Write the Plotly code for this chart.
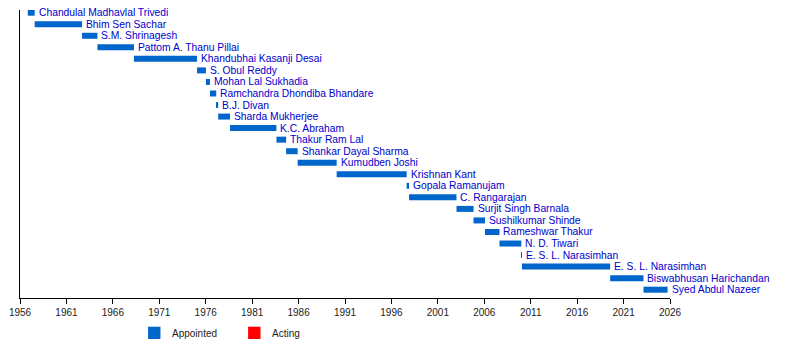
import pandas as pd
import plotly.graph_objects as go

# Governors of Andhra Pradesh, in order of term
names = [
    "Chandulal Madhavlal Trivedi", "Bhim Sen Sachar", "S.M. Shrinagesh",
    "Pattom A. Thanu Pillai", "Khandubhai Kasanji Desai", "S. Obul Reddy",
    "Mohan Lal Sukhadia", "Ramchandra Dhondiba Bhandare", "B.J. Divan",
    "Sharda Mukherjee", "K.C. Abraham", "Thakur Ram Lal",
    "Shankar Dayal Sharma", "Kumudben Joshi", "Krishnan Kant",
    "Gopala Ramanujam", "C. Rangarajan", "Surjit Singh Barnala",
    "Sushilkumar Shinde", "Rameshwar Thakur", "N. D. Tiwari",
    "E. S. L. Narasimhan", "E. S. L. Narasimhan",
    "Biswabhusan Harichandan", "Syed Abdul Nazeer",
]
starts = [
    "1956-11-01", "1957-08-01", "1962-09-08", "1964-05-04", "1968-04-11",
    "1975-01-25", "1976-01-10", "1976-06-16", "1977-02-17", "1977-05-05",
    "1978-08-15", "1983-08-15", "1984-08-29", "1985-11-26", "1990-02-07",
    "1997-08-22", "1997-11-24", "2003-01-03", "2004-11-04", "2006-01-29",
    "2007-08-22", "2009-12-28", "2010-01-23", "2019-07-24", "2023-02-24",
]
ends = [
    "1957-08-01", "1962-09-08", "1964-05-04", "1968-04-11", "1975-01-25",
    "1976-01-10", "1976-06-16", "1977-02-17", "1977-05-05", "1978-08-15",
    "1983-08-15", "1984-08-29", "1985-11-26", "1990-02-07", "1997-08-22",
    "1997-11-24", "2003-01-03", "2004-11-04", "2006-01-29", "2007-08-22",
    "2009-12-27", "2010-01-22", "2019-07-23", "2023-02-23", "2025-09-28",
]
kinds = ["Appointed"] * 21 + ["Acting"] + ["Appointed"] * 3

year_ticks = [str(y) for y in range(1956, 2027, 5)]

colors = {"Appointed": "#0066cc", "Acting": "#ff0000"}
label_color = "#0000cc"

W, H = 800, 348
ML, MR, MT, MB = 20.3, 130, 10, 50
plot_w, plot_h = W - ML - MR, H - MT - MB

df = pd.DataFrame({"name": names, "start": pd.to_datetime(starts),
                   "end": pd.to_datetime(ends), "kind": kinds})
df["row"] = range(len(df))
df["dur_ms"] = (df["end"] - df["start"]).dt.total_seconds() * 1000

fig = go.Figure()
for kind, color in colors.items():
    sub = df[df["kind"] == kind]
    fig.add_trace(go.Bar(
        orientation="h", y=sub["row"], x=sub["dur_ms"], base=sub["start"],
        marker=dict(color=color, line=dict(width=0)), width=0.52,
        name=kind, showlegend=False, hoverinfo="skip",
    ))

# name labels just after the end of each term
for _, r in df.iterrows():
    fig.add_annotation(
        x=r["end"], y=r["row"], text=r["name"], showarrow=False,
        xanchor="left", yanchor="middle", xshift=2,
        font=dict(family="Liberation Sans, Arial, sans-serif", size=10.3,
                  color=label_color),
    )


def px_x(p):
    return (p - ML) / plot_w


def px_y(p):
    return (H - MB - p) / plot_h


# legend swatches and captions below the axis
legend_items = [("Appointed", 148.3), ("Acting", 248.3)]
for label, left in legend_items:
    fig.add_shape(type="rect", xref="paper", yref="paper",
                  x0=px_x(left), x1=px_x(left + 12.4),
                  y0=px_y(339), y1=px_y(326.7),
                  fillcolor=colors[label], line=dict(width=0))
    fig.add_annotation(xref="paper", yref="paper", x=px_x(left + 21.5),
                       y=px_y(333), text=label, showarrow=False,
                       xanchor="left", yanchor="middle",
                       font=dict(family="Liberation Sans, Arial, sans-serif",
                                 size=10, color="#222222"))

fig.update_xaxes(
    type="date", range=["1956-01-01", "2026-01-01"],
    tickvals=[f"{y}-01-01" for y in year_ticks], ticktext=year_ticks,
    ticks="outside", ticklen=5, tickwidth=1, tickcolor="black",
    showline=True, linecolor="black", linewidth=1, showgrid=False,
    zeroline=False,
    tickfont=dict(family="Liberation Sans, Arial, sans-serif", size=10,
                  color="#222222"),
)
fig.update_yaxes(
    range=[24.72, -0.234], showticklabels=False, ticks="",
    showline=True, linecolor="black", linewidth=1, showgrid=False,
    zeroline=False,
)
fig.update_layout(
    width=W, height=H, margin=dict(l=ML, r=MR, t=MT, b=MB, pad=0),
    plot_bgcolor="white", paper_bgcolor="white", barmode="overlay",
    showlegend=False,
)

fig.write_html("out.html")
